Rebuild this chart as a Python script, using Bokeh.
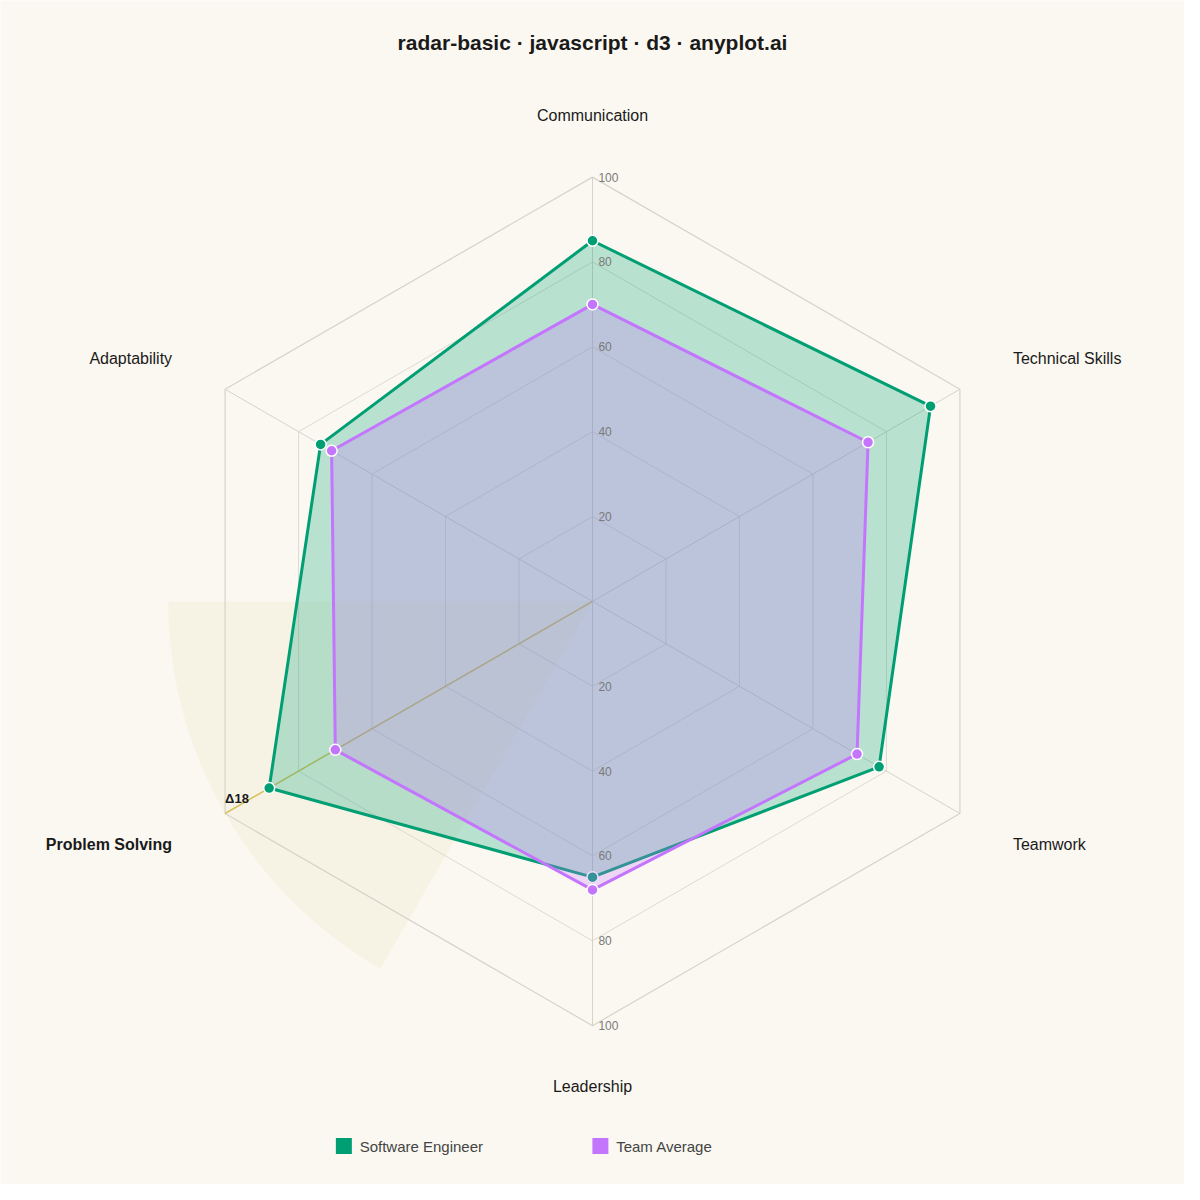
import numpy as np
from bokeh.plotting import figure
from bokeh.models import Range1d
from bokeh.core.properties import value
from bokeh.embed import file_html
from bokeh.resources import INLINE

# data
categories = ["Communication", "Technical Skills", "Teamwork",
              "Leadership", "Problem Solving", "Adaptability"]
engineer = [85, 92, 78, 65, 88, 74]
team_avg = [70, 75, 72, 68, 70, 71]
series_names = ["Software Engineer", "Team Average"]
tick_values = [20, 40, 60, 80, 100]

GREEN = "#009E73"
PURPLE = "#C475FD"
BG = "#FAF8F1"
FONT = value("Liberation Sans")

W = H = 1184
k_px = W / 1200           # squeeze the 1200px design into the 1184px figure
scale = 4.3 * k_px        # px per value unit
cx_px, cy_px = 600 * k_px, 609 * k_px   # radar centre, px from figure top-left

p = figure(width=W, height=H, output_backend="svg", toolbar_location=None,
           x_range=Range1d(-cx_px / scale, (W - cx_px) / scale),
           y_range=Range1d(-(H - cy_px) / scale, cy_px / scale),
           min_border=0, background_fill_color=BG, border_fill_color=BG)
p.axis.visible = False
p.grid.visible = False
p.outline_line_color = None

n = len(categories)
theta = np.pi / 2 - np.arange(n) * 2 * np.pi / n


def polar(vals):
    vals = np.asarray(vals, dtype=float)
    return list(vals * np.cos(theta)), list(vals * np.sin(theta))


# largest gap highlight (behind everything)
gaps = [a - b for a, b in zip(engineer, team_avg)]
k = int(np.argmax(np.abs(gaps)))
ang = theta[k]
p.wedge(x=0, y=0, radius=100, start_angle=ang - np.pi / 6, end_angle=ang + np.pi / 6,
        fill_color="#e4d8a8", fill_alpha=0.16, line_color=None)

# hexagon grid
for t in tick_values:
    gx, gy = polar([t] * n)
    p.line(gx + gx[:1], gy + gy[:1], line_color="#d6d3cb",
           line_width=1.2 if t == 100 else 1, line_alpha=1 if t == 100 else 0.8)

# spokes
ex, ey = polar([100] * n)
p.segment(x0=[0] * n, y0=[0] * n, x1=ex, y1=ey, line_color="#d6d3cb", line_width=1)
p.segment(x0=0, y0=0, x1=100 * np.cos(ang), y1=100 * np.sin(ang),
          line_color="#d8bf50", line_width=1.5, line_alpha=0.9)

# series
for vals, col in [(engineer, GREEN), (team_avg, PURPLE)]:
    sx, sy = polar(vals)
    p.patch(sx, sy, fill_color=col, fill_alpha=0.26, line_color=None)
    p.line(sx + sx[:1], sy + sy[:1], line_color=col, line_width=3)
    p.scatter(sx, sy, size=11, fill_color=col, line_color="white", line_width=1.5)

p.text(x=[100 * np.cos(ang)], y=[100 * np.sin(ang) + 15 / 4.3], text=[f"Δ{abs(gaps[k])}"],
       text_font=FONT, text_font_size="13px", text_font_style="bold",
       text_color="#1a1a1a", text_align="left", text_baseline="middle")

# tick labels on vertical axis (above and below centre)
for sign in (1, -1):
    p.text(x=[6 / 4.3] * len(tick_values), y=[sign * t for t in tick_values],
           text=[str(t) for t in tick_values], text_font=FONT, text_font_size="12px",
           text_color="#7a7a7a", text_align="left", text_baseline="middle")

# category labels
lr = 492 / 4.3
for i, cat in enumerate(categories):
    c = np.cos(theta[i])
    align = "center" if abs(c) < 0.01 else ("left" if c > 0 else "right")
    p.text(x=[lr * c], y=[lr * np.sin(theta[i])], text=[cat], text_font=FONT,
           text_font_size="16px", text_color="#1a1a1a", text_align=align,
           text_baseline="middle", text_font_style="bold" if i == k else "normal")

# title
p.text(x=[0], y=[(609 - 43) / 4.3], text=["radar-basic · javascript · d3 · anyplot.ai"],
       text_font=FONT, text_font_size="21px", text_font_style="bold",
       text_color="#1a1a1a", text_align="center", text_baseline="middle")

# legend
ly = -(1161 - 609) / 4.3
for name, col, lx in zip(series_names, [GREEN, PURPLE], [-252 / 4.3, 8 / 4.3]):
    p.scatter([lx], [ly], marker="square", size=16, fill_color=col, line_color=None)
    p.text(x=[lx + 16 / 4.3], y=[ly], text=[name], text_font=FONT, text_font_size="15px",
           text_color="#444444", text_align="left", text_baseline="middle")

open("out.html", "w").write(file_html(p, INLINE))
